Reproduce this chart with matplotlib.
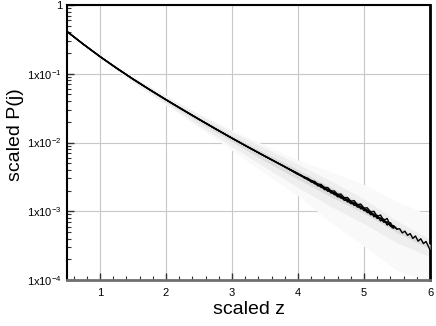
import numpy as np
import matplotlib
matplotlib.use("Agg")
import matplotlib.pyplot as plt
from matplotlib.ticker import MultipleLocator, LogLocator, FixedLocator, FixedFormatter

plt.rcParams['font.family'] = ['Liberation Sans', 'DejaVu Sans']

# ---- data (log10 of scaled P(j)) ----
head_z = [0.5, 0.75, 1.0, 1.25, 1.5, 1.75, 2.0, 2.25, 2.5, 2.75, 3.0, 3.25, 3.5, 3.75]
head_log = [-0.385, -0.5725, -0.75, -0.9175, -1.0775, -1.23, -1.3775, -1.5213,
            -1.6625, -1.8013, -1.9375, -2.07, -2.20, -2.3275]

tail_z_A = [4.00, 4.05, 4.10, 4.15, 4.20, 4.25, 4.30, 4.35, 4.40, 4.45, 4.50, 4.55,
            4.60, 4.65, 4.70, 4.75, 4.80, 4.85, 4.90, 4.95, 5.00, 5.05, 5.10, 5.15,
            5.20, 5.25, 5.30, 5.35, 5.40, 5.45, 5.50, 5.54, 5.58, 5.62, 5.66, 5.70,
            5.74, 5.78, 5.82, 5.86, 5.90, 5.94, 5.98, 6.00]
tail_log_A = [-2.455, -2.475, -2.510, -2.525, -2.562, -2.577, -2.614, -2.628, -2.667,
              -2.680, -2.718, -2.730, -2.768, -2.778, -2.818, -2.826, -2.868, -2.876,
              -2.918, -2.926, -2.968, -2.980, -3.030, -3.040, -3.090, -3.100, -3.150,
              -3.160, -3.210, -3.220, -3.260, -3.255, -3.315, -3.290, -3.350, -3.325,
              -3.395, -3.360, -3.435, -3.400, -3.470, -3.440, -3.520, -3.560]

tail_z_B = [4.00, 4.05, 4.10, 4.15, 4.20, 4.25, 4.30, 4.35, 4.40, 4.45, 4.50, 4.55,
            4.60, 4.65, 4.70, 4.75, 4.80, 4.85, 4.90, 4.95, 5.00, 5.05, 5.10, 5.15,
            5.20, 5.25, 5.30, 5.35, 5.40, 5.45]
tail_log_B = [-2.450, -2.490, -2.500, -2.545, -2.550, -2.600, -2.600, -2.655, -2.650,
              -2.710, -2.700, -2.760, -2.750, -2.810, -2.800, -2.865, -2.850, -2.915,
              -2.900, -2.965, -2.950, -3.020, -3.000, -3.080, -3.060, -3.140, -3.115,
              -3.200, -3.165, -3.245]

tail_z_C = [4.00, 4.05, 4.10, 4.15, 4.20, 4.25, 4.30, 4.35, 4.40, 4.45, 4.50, 4.55,
            4.60, 4.65, 4.70, 4.75, 4.80, 4.85, 4.90, 4.95, 5.00, 5.05, 5.10, 5.15,
            5.20, 5.25, 5.30, 5.35, 5.40, 5.43]
tail_log_C = [-2.460, -2.480, -2.505, -2.520, -2.555, -2.565, -2.605, -2.610, -2.655,
              -2.655, -2.705, -2.705, -2.755, -2.750, -2.805, -2.800, -2.855, -2.845,
              -2.905, -2.895, -2.955, -2.950, -3.015, -3.000, -3.075, -3.055, -3.135,
              -3.105, -3.205, -3.240]

tail_z_D = [4.00, 4.05, 4.10, 4.15, 4.20, 4.25, 4.30, 4.35, 4.40, 4.45, 4.50, 4.55,
            4.60, 4.65, 4.70, 4.75, 4.80, 4.85, 4.90, 4.95, 5.00, 5.05, 5.10, 5.15,
            5.20, 5.25, 5.30, 5.35, 5.40, 5.45, 5.50]
tail_log_D = [-2.465, -2.485, -2.520, -2.535, -2.575, -2.585, -2.630, -2.635, -2.685,
              -2.685, -2.735, -2.740, -2.790, -2.790, -2.840, -2.840, -2.890, -2.885,
              -2.940, -2.935, -2.990, -2.995, -3.050, -3.045, -3.105, -3.100, -3.160,
              -3.155, -3.215, -3.210, -3.260]

# gray scatter cloud envelope (log10 values)
band_z = [0.5, 1.0, 1.5, 2.0, 2.5, 3.0, 3.5, 4.0, 4.5, 5.0, 5.5, 6.0]
band_center = [-0.385, -0.75, -1.0775, -1.3775, -1.6625, -1.9375, -2.20, -2.455, -2.71,
               -2.96, -3.26, -3.51]
inner_up = [0.005, 0.01, 0.015, 0.02, 0.03, 0.04, 0.05, 0.06, 0.06, 0.05, 0.04, 0.03]
inner_dn = [0.005, 0.01, 0.02, 0.03, 0.04, 0.05, 0.07, 0.08, 0.08, 0.07, 0.05, 0.04]
mid_up = [0.01, 0.02, 0.03, 0.05, 0.07, 0.09, 0.12, 0.14, 0.15, 0.14, 0.12, 0.10]
mid_dn = [0.01, 0.02, 0.04, 0.06, 0.09, 0.12, 0.16, 0.20, 0.22, 0.22, 0.20, 0.15]
outer_up = [0.00, 0.02, 0.04, 0.06, 0.08, 0.12, 0.16, 0.20, 0.28, 0.35, 0.40, 0.45]
outer_dn = [0.00, 0.02, 0.05, 0.08, 0.12, 0.18, 0.25, 0.32, 0.45, 0.55, 0.60, 0.50]

x_ticks = [1, 2, 3, 4, 5, 6]
y_ticks = [1e-4, 1e-3, 1e-2, 1e-1, 1]
y_tick_labels = [r'1x10$^{\mathregular{-4}}$', r'1x10$^{\mathregular{-3}}$',
                 r'1x10$^{\mathregular{-2}}$', r'1x10$^{\mathregular{-1}}$', '1']

# ---- figure ----
fig = plt.figure(figsize=(4.36, 3.26), dpi=100)
ax = fig.add_axes([67/436, 1 - 280/326, (430 - 67)/436, (280 - 5)/326])

bz = np.array(band_z)
bc = np.array(band_center)
for up, dn, col, zo in [(outer_up, outer_dn, '#f9f9f9', 1),
                        (mid_up, mid_dn, '#eeeeee', 2),
                        (inner_up, inner_dn, '#dcdcdc', 3)]:
    ax.fill_between(bz, 10**(bc - np.array(dn)), 10**(bc + np.array(up)),
                    color=col, lw=0, zorder=zo)

curves = [(tail_z_A, tail_log_A), (tail_z_B, tail_log_B),
          (tail_z_C, tail_log_C), (tail_z_D, tail_log_D)]
for tz, tl in curves:
    z = np.array(head_z + tz)
    p = 10**np.array(head_log + tl)
    ax.plot(z, p, color='black', lw=1.0, zorder=4)

ax.set_yscale('log')
ax.set_xlim(0.5, 6)
ax.set_ylim(1e-4, 1)

ax.xaxis.set_major_locator(FixedLocator(x_ticks))
ax.xaxis.set_minor_locator(MultipleLocator(0.2))
ax.yaxis.set_major_locator(FixedLocator(y_ticks))
ax.yaxis.set_major_formatter(FixedFormatter(y_tick_labels))
ax.yaxis.set_minor_locator(LogLocator(base=10, subs=np.arange(2, 10), numticks=20))
ax.yaxis.set_minor_formatter(plt.NullFormatter())

ax.tick_params(which='both', direction='in', top=False, right=False, labelsize=8,
               color='#333333')
ax.tick_params(which='major', length=5, width=1)
ax.tick_params(which='minor', length=3, width=0.8)
ax.tick_params(axis='x', pad=6)

ax.grid(True, which='major', color='#c8c8c8', lw=0.8, zorder=0)
ax.set_axisbelow(True)

for s in ['top', 'left', 'right']:
    ax.spines[s].set_color('black')
    ax.spines[s].set_linewidth(1.5)
ax.spines['right'].set_linewidth(2)
ax.spines['bottom'].set_color('#707070')
ax.spines['bottom'].set_linewidth(2)

ax.set_xlabel('scaled z', fontsize=14, labelpad=2)
ax.set_ylabel('scaled P(j)', fontsize=14)
ax.yaxis.set_label_coords(-0.118, 0.53)

fig.savefig('out.png', dpi=100)
